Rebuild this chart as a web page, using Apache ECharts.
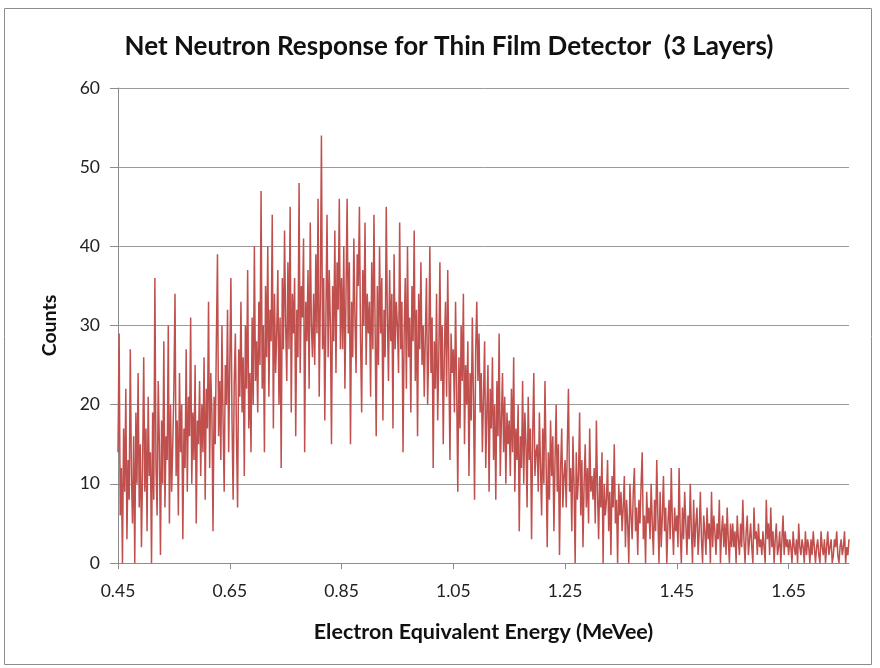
<!DOCTYPE html>
<html>
<head>
<meta charset="utf-8">
<script src="https://cdn.jsdelivr.net/npm/echarts@6/dist/echarts.min.js"></script>
<style>html,body{margin:0;padding:0;background:#fff}#c{width:880px;height:668px}</style>
</head>
<body>
<div id="c"></div>
<script>
const titleText = 'Net Neutron Response for Thin Film Detector  (3 Layers)';
const xName = 'Electron Equivalent Energy (MeVee)';
const yName = 'Counts';
const xTickValues = [0.45, 0.65, 0.85, 1.05, 1.25, 1.45, 1.65];
const yTickValues = [0, 10, 20, 30, 40, 50, 60];
const energyStart = 0.45;
const energyStep = 0.002;
// Counts per energy bin, read block by block (0.1 MeVee = 50 bins each) from the picture
const counts_045 = [14,29,6,12,0,17,9,22,3,13,8,27,11,5,16,0,19,10,24,7,15,2,12,26,9,
  17,4,21,11,14,0,19,8,36,12,6,23,15,1,18,10,28,7,16,13,30,5,20,9,15];
const counts_055 = [22,34,11,18,6,24,14,20,3,17,12,27,9,21,16,31,10,19,13,25,5,18,15,23,11,
  20,14,26,8,22,17,33,12,24,19,4,21,15,28,39,16,23,13,30,18,9,25,20,32,14];
const counts_065 = [25,36,18,8,23,29,16,7,27,21,33,19,26,11,30,22,37,17,24,14,31,20,40,23,28,
  19,33,25,47,22,30,14,35,26,40,21,32,28,44,17,34,24,29,37,20,31,12,36,27,42];
const counts_075 = [30,23,38,27,45,19,34,29,36,16,32,26,48,24,35,31,41,14,33,28,37,22,43,30,26,
  34,25,39,29,46,21,33,54,27,36,18,31,44,26,37,30,15,35,28,42,24,38,32,46,27];
const counts_085 = [36,27,40,22,34,46,29,38,15,33,26,41,31,24,39,35,45,28,19,37,30,43,25,34,29,
  33,21,38,27,44,30,16,35,25,40,29,36,18,32,26,45,31,23,37,28,34,17,39,27,33];
const counts_095 = [30,24,43,27,33,14,29,36,22,40,26,31,19,35,28,42,23,32,16,34,27,38,25,30,21,
  29,36,20,27,40,24,31,12,28,22,34,18,26,38,23,30,15,27,33,21,37,25,13,29,24];
const counts_105 = [27,19,33,22,9,26,17,30,23,34,15,25,20,28,11,24,18,31,21,8,27,33,23,29,19,
  24,14,21,28,12,19,25,9,22,17,26,13,20,8,23,16,29,11,18,24,14,21,10,19,15];
const counts_115 = [18,11,22,14,26,9,17,13,20,4,16,12,23,10,19,15,7,21,13,17,3,16,24,11,14,
  15,9,19,12,6,17,10,23,13,2,14,8,18,11,16,4,13,20,9,15,1,12,17,7,11];
const counts_125 = [13,7,15,22,9,12,4,16,10,0,14,8,11,19,6,13,2,10,15,7,12,5,17,9,11,
  8,12,5,18,9,3,11,7,14,0,10,6,8,13,4,9,1,11,7,15,5,8,0,10,6];
const counts_135 = [9,4,7,11,2,8,5,0,10,6,3,9,12,4,7,1,8,5,10,14,3,6,0,9,5,
  7,3,10,5,1,8,4,13,6,0,9,2,6,11,4,7,0,5,8,3,12,5,1,7,4];
const counts_145 = [6,2,12,4,0,7,3,9,5,1,6,3,10,4,0,8,2,5,7,1,4,9,3,0,6,
  4,1,7,3,5,0,9,2,6,4,1,5,3,8,0,4,6,2,5,1,7,3,0,5,2];
const counts_155 = [5,2,4,0,6,3,1,5,2,8,3,0,4,6,1,3,5,2,0,7,3,4,1,5,2,
  3,1,4,2,0,8,3,5,1,7,2,4,0,3,5,1,2,4,0,3,6,1,4,2,3];
const counts_165 = [1,3,2,0,4,2,1,3,0,5,2,1,3,2,0,4,1,3,2,0,3,1,4,2,0,
  2,3,1,0,4,2,1,3,0,2,4,1,2,3,0,1,3,2,4,1,0,2,3,1,2,
  4,0,2,1,3];

const counts = [].concat(counts_045, counts_055, counts_065, counts_075, counts_085,
  counts_095, counts_105, counts_115, counts_125, counts_135, counts_145, counts_155, counts_165);
const seriesData = counts.map((c, i) => [+(energyStart + i * energyStep).toFixed(3), c]);
const xMax = +(energyStart + (counts.length - 1) * energyStep).toFixed(3);

const FONT = 'Lato';
const chart = echarts.init(document.getElementById('c'), null, {renderer: 'canvas'});
chart.setOption({
  animation: false,
  backgroundColor: '#fff',
  title: {
    text: titleText,
    left: 444, top: 29, textAlign: 'center',
    textStyle: {fontFamily: FONT, fontSize: 26, fontWeight: 'bold', color: '#111'}
  },
  graphic: [{
    type: 'rect', silent: true,
    shape: {x: 4.5, y: 8.5, width: 867, height: 656},
    style: {fill: 'none', stroke: '#8c8c8c', lineWidth: 1}
  }],
  grid: {left: 118, right: 31, top: 88, bottom: 105, containLabel: false},
  xAxis: {
    type: 'value', min: energyStart, max: xMax,
    name: xName, nameLocation: 'middle', nameGap: 58,
    nameTextStyle: {fontFamily: FONT, fontSize: 21.5, fontWeight: 'bold', color: '#111'},
    axisLine: {show: true, onZero: false, lineStyle: {color: '#8c8c8c', width: 1}},
    axisTick: {show: true, customValues: xTickValues, length: 6, lineStyle: {color: '#8c8c8c'}},
    axisLabel: {customValues: xTickValues, margin: 19, fontFamily: FONT, fontSize: 17.5, color: '#222',
      formatter: v => (+v).toFixed(2)},
    splitLine: {show: false}
  },
  yAxis: {
    type: 'value', min: 0, max: 60, interval: 10,
    name: yName, nameLocation: 'middle', nameGap: 58,
    nameTextStyle: {fontFamily: FONT, fontSize: 19.5, fontWeight: 'bold', color: '#111'},
    axisLine: {show: true, lineStyle: {color: '#8c8c8c', width: 1}},
    axisTick: {show: true, length: 8, lineStyle: {color: '#8c8c8c'}},
    axisLabel: {margin: 18, fontFamily: FONT, fontSize: 17.5, color: '#222',
      customValues: yTickValues},
    splitLine: {show: true, lineStyle: {color: '#9a9a9a', width: 1}}
  },
  series: [{
    type: 'line', data: seriesData, showSymbol: false, symbol: 'none',
    sampling: 'none', clip: true,
    lineStyle: {color: '#C0504D', width: 1.5, join: 'bevel'}
  }]
});
</script>
</body>
</html>
